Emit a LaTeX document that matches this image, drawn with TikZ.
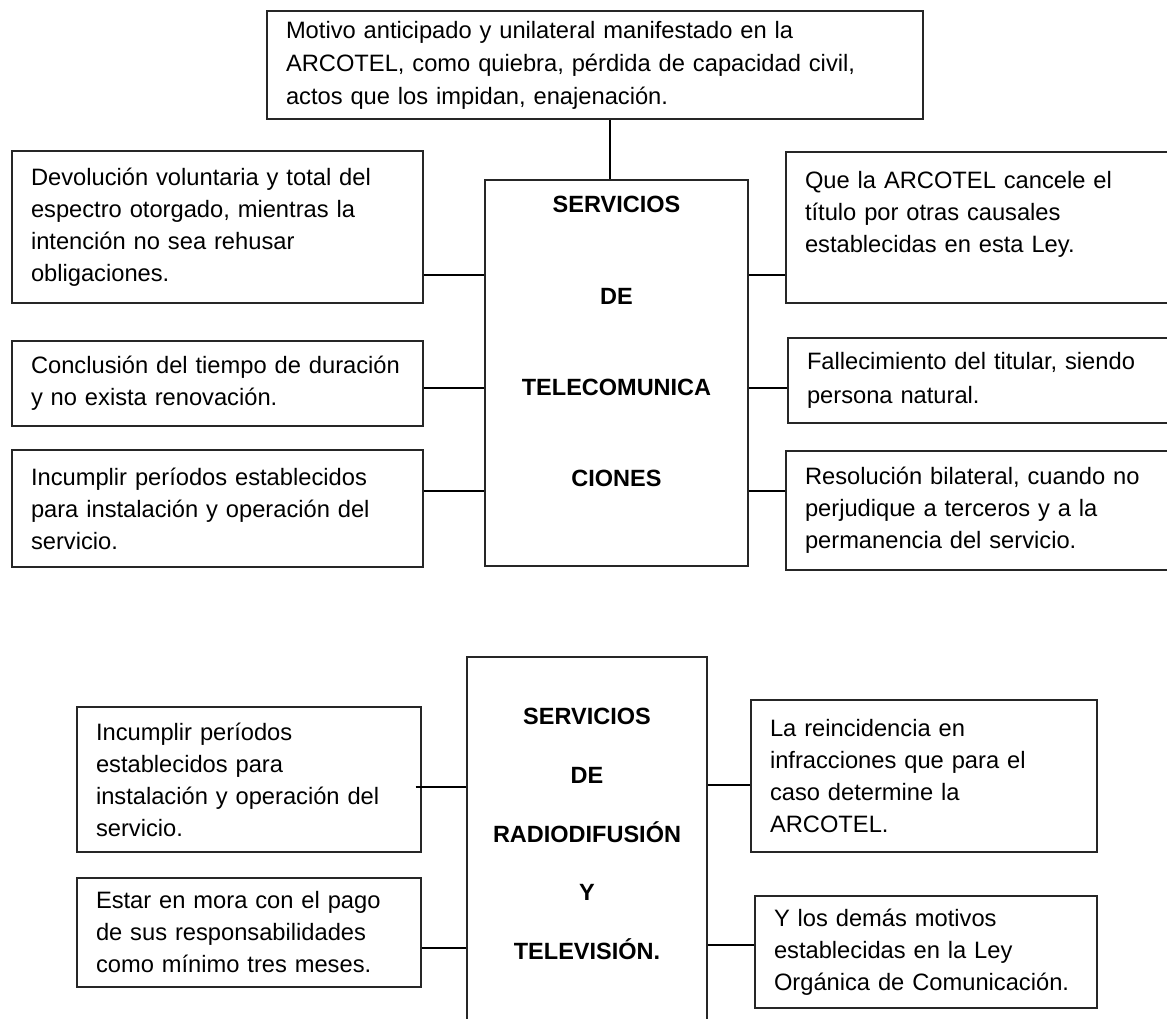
\documentclass[tikz,border=0pt]{standalone}
\usepackage{fontspec}
\setmainfont{Liberation Sans}
\usetikzlibrary{positioning}

\begin{document}
\begin{tikzpicture}[
    x=1pt, y=-1pt,
    box/.style={draw=black!85, line width=1.3pt, align=left,
                inner xsep=19pt, inner ysep=4pt,
                font=\fontsize{23.7}{32}\selectfont},
    hub/.style={draw=black!85, line width=1.3pt, align=center,
                inner sep=4pt, font=\bfseries\fontsize{23.5}{28}\selectfont},
    link/.style={line width=1.8pt}
]
\useasboundingbox (0,0) rectangle (1167,1018);

% servicios de telecomunicaciones
\node[hub, minimum width=263pt, minimum height=386pt] (tele) at (616.5,373)
    {SERVICIOS\\[63.3pt] DE\\[63.3pt] TELECOMUNICA\\[63.3pt] CIONES\\[34.8pt] \mbox{}};

\node[box, text width=618pt, minimum height=108pt] (motivo) at (595,65)
    {Motivo anticipado y unilateral manifestado en la\\[1pt]
     ARCOTEL, como quiebra, pérdida de capacidad civil,\\[1pt]
     actos que los impidan, enajenación.};

\node[box, text width=373pt, minimum height=152pt] (devol) at (217.5,227)
    {Devolución voluntaria y total del\\
     espectro otorgado, mientras la\\
     intención no sea rehusar\\
     obligaciones.};

\node[box, text width=373pt, minimum height=85pt] (concl) at (217.5,383.5)
    {Conclusión del tiempo de duración\\
     y no exista renovación.};

\node[box, text width=373pt, minimum height=117pt] (incum) at (217.5,508.5)
    {Incumplir períodos establecidos\\
     para instalación y operación del\\
     servicio.};

\node[box, text width=356pt, minimum height=151pt] (cancel) at (983,227.5)
    {Que la ARCOTEL cancele el\\
     título por otras causales\\
     establecidas en esta Ley.\\ \mbox{}};

\node[box, text width=354pt, minimum height=85pt] (fallec) at (984,380.5)
    {Fallecimiento del titular, siendo\\[2pt]
     persona natural.};

\node[box, text width=356pt, minimum height=119pt] (resol) at (983,510.5)
    {Resolución bilateral, cuando no\\
     perjudique a terceros y a la\\
     permanencia del servicio.};

\draw[link] ([xshift=15pt]motivo.south) coordinate (m1) -- (m1 |- tele.north);
\draw[link] ([yshift=-48pt]devol.east) coordinate (d1) -- (d1 -| tele.west);
\draw[link] ([yshift=-4.5pt]concl.east) coordinate (c1) -- (c1 -| tele.west);
\draw[link] ([yshift=17.5pt]incum.east) coordinate (i1) -- (i1 -| tele.west);
\draw[link] ([yshift=-47.5pt]cancel.west) coordinate (q1) -- (q1 -| tele.east);
\draw[link] ([yshift=-7.5pt]fallec.west) coordinate (f1) -- (f1 -| tele.east);
\draw[link] ([yshift=19.5pt]resol.west) coordinate (r1) -- (r1 -| tele.east);

% servicios de radiodifusion y television
\node[hub, minimum width=240pt, minimum height=403pt] (radio) at (587,858.5)
    {SERVICIOS\\[30.7pt] DE\\[30.7pt] RADIODIFUSIÓN\\[30.7pt] Y\\[30.7pt]
     TELEVISIÓN.\\[21pt] \mbox{}};

\node[box, text width=306pt, minimum height=145pt] (incumB) at (249,779.5)
    {Incumplir períodos\\
     establecidos para\\
     instalación y operación del\\
     servicio.};

\node[box, text width=306pt, minimum height=109pt] (mora) at (249,932.5)
    {Estar en mora con el pago\\
     de sus responsabilidades\\
     como mínimo tres meses.};

\node[box, text width=308pt, minimum height=152pt] (reinc) at (924,776)
    {La reincidencia en\\
     infracciones que para el\\
     caso determine la\\
     ARCOTEL.};

\node[box, text width=304pt, minimum height=112pt] (demas) at (926,952)
    {Y los demás motivos\\
     establecidas en la Ley\\
     Orgánica de Comunicación.};

\draw[link] ([xshift=-6pt, yshift=-7.5pt]incumB.east) coordinate (b1) -- (b1 -| radio.west);
\draw[link] ([yshift=-15.5pt]mora.east) coordinate (b2) -- (b2 -| radio.west);
\draw[link] ([yshift=-9pt]reinc.west) coordinate (b3) -- (b3 -| radio.east);
\draw[link] ([yshift=7pt]demas.west) coordinate (b4) -- (b4 -| radio.east);

\end{tikzpicture}
\end{document}
